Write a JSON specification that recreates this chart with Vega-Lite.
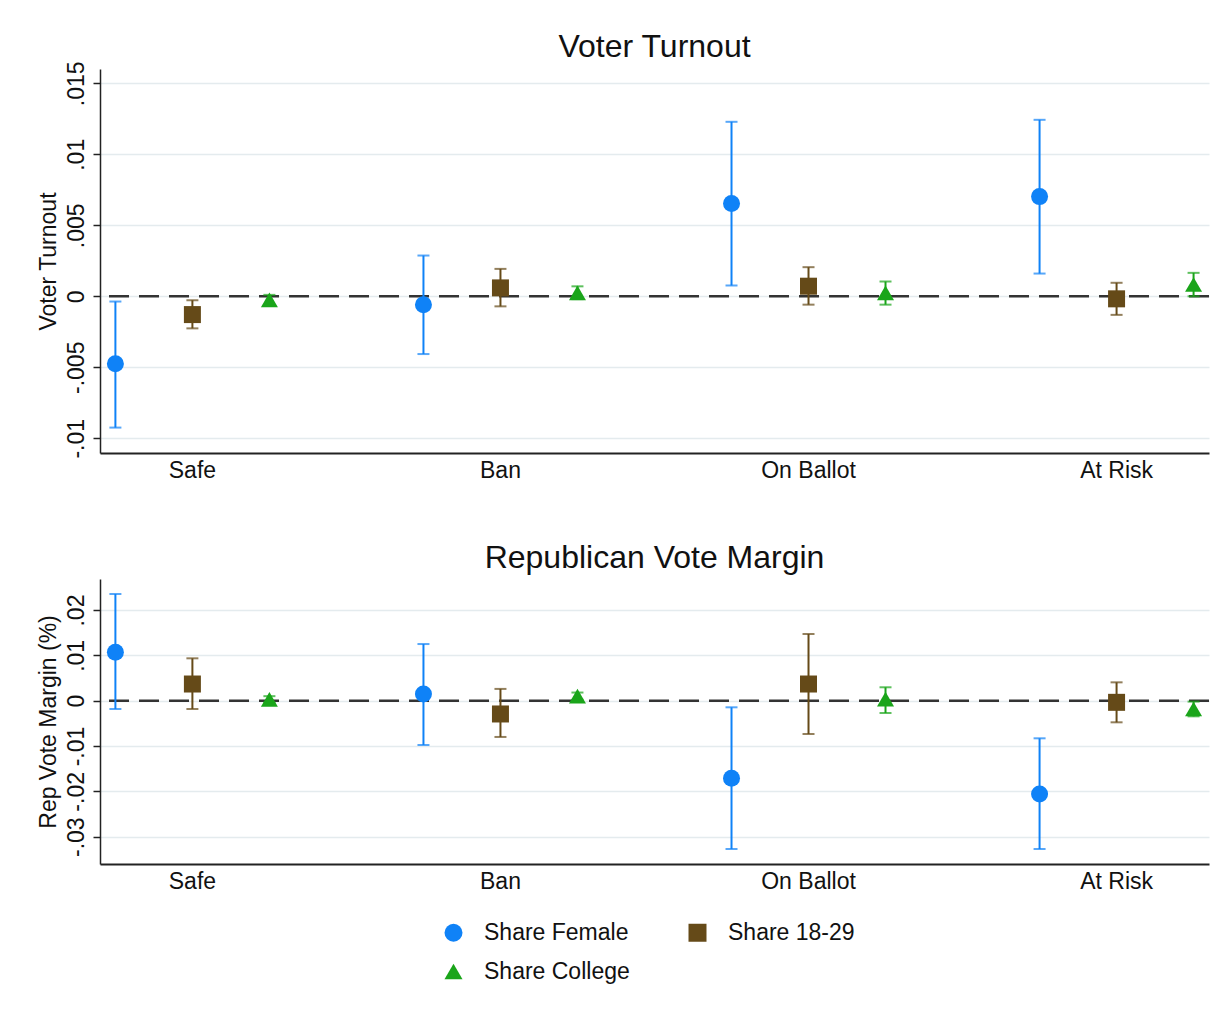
{
  "$schema": "https://vega.github.io/schema/vega-lite/v6.json",
  "background": "white",
  "autosize": {"type": "pad"},
  "padding": {"left": 37, "top": 30, "right": 16, "bottom": 10},
  "config": {
    "font": "Liberation Sans",
    "view": {"stroke": null},
    "axis": {
      "labelFont": "Liberation Sans",
      "titleFont": "Liberation Sans",
      "labelColor": "#111111",
      "titleColor": "#111111",
      "labelFontSize": 23,
      "titleFontSize": 23,
      "titleFontWeight": "normal",
      "domainColor": "#222222",
      "domainWidth": 1.5,
      "tickColor": "#222222",
      "tickWidth": 1.5,
      "gridColor": "#e4ebee",
      "gridWidth": 1.5
    },
    "title": {
      "font": "Liberation Sans",
      "fontSize": 32,
      "fontWeight": "normal",
      "color": "#111111",
      "anchor": "middle",
      "frame": "group",
      "baseline": "alphabetic"
    },
    "concat": {"spacing": 60}
  },
  "datasets": {
    "turnout": [
      {"category": "Safe", "series": "Share Female", "est": -0.00475, "lo": -0.00925, "hi": -0.00037},
      {"category": "Safe", "series": "Share 18-29", "est": -0.00129, "lo": -0.00226, "hi": -0.00028},
      {"category": "Safe", "series": "Share College", "est": -0.00025, "lo": -0.0006, "hi": 0.0001},
      {"category": "Ban", "series": "Share Female", "est": -0.00059, "lo": -0.00407, "hi": 0.00287},
      {"category": "Ban", "series": "Share 18-29", "est": 0.00059, "lo": -0.00071, "hi": 0.00193},
      {"category": "Ban", "series": "Share College", "est": 0.00024, "lo": -0.0002, "hi": 0.0007},
      {"category": "On Ballot", "series": "Share Female", "est": 0.00653, "lo": 0.00076, "hi": 0.01229},
      {"category": "On Ballot", "series": "Share 18-29", "est": 0.00071, "lo": -0.00059, "hi": 0.00205},
      {"category": "On Ballot", "series": "Share College", "est": 0.00024, "lo": -0.00059, "hi": 0.00104},
      {"category": "At Risk", "series": "Share Female", "est": 0.00702, "lo": 0.0016, "hi": 0.01243},
      {"category": "At Risk", "series": "Share 18-29", "est": -0.00018, "lo": -0.00131, "hi": 0.00095},
      {"category": "At Risk", "series": "Share College", "est": 0.00083, "lo": 0.0, "hi": 0.00165}
    ],
    "margin": [
      {"category": "Safe", "series": "Share Female", "est": 0.01068, "lo": -0.00183, "hi": 0.02354},
      {"category": "Safe", "series": "Share 18-29", "est": 0.00368, "lo": -0.00183, "hi": 0.00935},
      {"category": "Safe", "series": "Share College", "est": 0.0003, "lo": -0.0004, "hi": 0.001},
      {"category": "Ban", "series": "Share Female", "est": 0.00148, "lo": -0.00977, "hi": 0.0125},
      {"category": "Ban", "series": "Share 18-29", "est": -0.00293, "lo": -0.008, "hi": 0.0026},
      {"category": "Ban", "series": "Share College", "est": 0.001, "lo": 0.0002, "hi": 0.0018},
      {"category": "On Ballot", "series": "Share Female", "est": -0.01712, "lo": -0.03272, "hi": -0.00146},
      {"category": "On Ballot", "series": "Share 18-29", "est": 0.00368, "lo": -0.00735, "hi": 0.01471},
      {"category": "On Ballot", "series": "Share College", "est": 0.00037, "lo": -0.00272, "hi": 0.00296},
      {"category": "At Risk", "series": "Share Female", "est": -0.02058, "lo": -0.03272, "hi": -0.0083},
      {"category": "At Risk", "series": "Share 18-29", "est": -0.00036, "lo": -0.00477, "hi": 0.00405},
      {"category": "At Risk", "series": "Share College", "est": -0.00183, "lo": -0.00345, "hi": -0.0002}
    ]
  },
  "resolve": {"scale": {"color": "shared", "shape": "shared", "stroke": "shared", "fill": "shared", "x": "independent", "y": "independent"}},
  "vconcat": [
    {
      "title": {"text": "Voter Turnout", "offset": -3},
      "width": 1109,
      "height": 384,
      "data": {"name": "turnout"},
      "layer": [
        {
          "data": {"values": [{"z": 0}]},
          "mark": {"type": "rule", "strokeDash": [20, 10], "strokeWidth": 2.5, "color": "#333333"},
          "encoding": {"y": {"field": "z", "type": "quantitative", "title": "Voter Turnout"}}
        },
        {
          "mark": {"type": "rule", "strokeWidth": 2},
          "encoding": {
            "x": {"field": "category", "type": "nominal", "sort": ["Safe", "Ban", "On Ballot", "At Risk"], "scale": {"paddingInner": 0.4, "paddingOuter": 0}, "axis": {"title": null, "labelAngle": 0, "ticks": false, "labelPadding": 6, "domainWidth": 2, "grid": false}},
            "xOffset": {"field": "series", "type": "nominal", "sort": ["Share Female", "Share 18-29", "Share College"], "scale": {"range": [-23.1, 207.9], "paddingInner": 0, "paddingOuter": 0}},
            "y": {"field": "lo", "type": "quantitative", "title": "Voter Turnout", "scale": {"domain": [-0.01104, 0.01601], "nice": false, "zero": false}, "axis": {"values": [-0.01, -0.005, 0, 0.005, 0.01, 0.015], "labelExpr": "datum.value == 0 ? '0' : (datum.value < 0 ? '-' : '') + replace(format(abs(datum.value), '.3~f'), '0.', '.')", "labelAngle": -90, "labelAlign": "center", "labelBaseline": "bottom", "labelPadding": 5, "tickSize": 7, "titlePadding": 5, "grid": true, "labelOverlap": false, "labelFlush": false, "labelBound": false}},
            "y2": {"field": "hi"},
            "stroke": {"field": "series", "type": "nominal", "scale": {"domain": ["Share 18-29", "Share Female", "Share College"], "range": ["#654a18", "#0f82f7", "#1aa51a"]}, "legend": null}
          }
        },
        {
          "mark": {"type": "tick", "size": 12, "thickness": 2, "orient": "horizontal"},
          "encoding": {
            "x": {"field": "category", "type": "nominal", "sort": ["Safe", "Ban", "On Ballot", "At Risk"]},
            "xOffset": {"field": "series", "type": "nominal", "sort": ["Share Female", "Share 18-29", "Share College"]},
            "y": {"field": "lo", "type": "quantitative", "title": "Voter Turnout"},
            "fill": {"field": "series", "type": "nominal", "scale": {"domain": ["Share College", "Share Female", "Share 18-29"], "range": ["#1aa51a", "#0f82f7", "#654a18"]}, "legend": null}
          }
        },
        {
          "mark": {"type": "tick", "size": 12, "thickness": 2, "orient": "horizontal"},
          "encoding": {
            "x": {"field": "category", "type": "nominal", "sort": ["Safe", "Ban", "On Ballot", "At Risk"]},
            "xOffset": {"field": "series", "type": "nominal", "sort": ["Share Female", "Share 18-29", "Share College"]},
            "y": {"field": "hi", "type": "quantitative", "title": "Voter Turnout"},
            "fill": {"field": "series", "type": "nominal", "legend": null}
          }
        },
        {
          "mark": {"type": "point", "filled": true, "size": 289, "opacity": 1, "strokeWidth": 0},
          "encoding": {
            "x": {"field": "category", "type": "nominal", "sort": ["Safe", "Ban", "On Ballot", "At Risk"]},
            "xOffset": {"field": "series", "type": "nominal", "sort": ["Share Female", "Share 18-29", "Share College"]},
            "y": {"field": "est", "type": "quantitative", "title": "Voter Turnout"},
            "color": {"field": "series", "type": "nominal", "scale": {"domain": ["Share Female", "Share 18-29", "Share College"], "range": ["#0f82f7", "#654a18", "#1aa51a"]}, "legend": {"title": null, "orient": "none", "direction": "horizontal", "legendX": 342, "legendY": 852, "columns": 2, "symbolSize": 324, "labelFontSize": 23, "labelFont": "Liberation Sans", "labelColor": "#111111", "columnPadding": 56, "rowPadding": 15, "labelOffset": 19, "labelLimit": 400}},
            "shape": {"field": "series", "type": "nominal", "scale": {"domain": ["Share Female", "Share 18-29", "Share College"], "range": ["circle", "square", "triangle-up"]}, "legend": {"title": null, "orient": "none", "direction": "horizontal", "legendX": 342, "legendY": 852, "columns": 2, "symbolSize": 324, "labelFontSize": 23, "labelFont": "Liberation Sans", "labelColor": "#111111", "columnPadding": 56, "rowPadding": 15, "labelOffset": 19, "labelLimit": 400}}
          }
        }
      ]
    },
    {
      "title": {"text": "Republican Vote Margin", "offset": 4},
      "width": 1109,
      "height": 285,
      "data": {"name": "margin"},
      "layer": [
        {
          "data": {"values": [{"z": 0}]},
          "mark": {"type": "rule", "strokeDash": [20, 10], "strokeWidth": 2.5, "color": "#333333"},
          "encoding": {"y": {"field": "z", "type": "quantitative", "title": "Rep Vote Margin (%)"}}
        },
        {
          "mark": {"type": "rule", "strokeWidth": 2},
          "encoding": {
            "x": {"field": "category", "type": "nominal", "sort": ["Safe", "Ban", "On Ballot", "At Risk"], "scale": {"paddingInner": 0.4, "paddingOuter": 0}, "axis": {"title": null, "labelAngle": 0, "ticks": false, "labelPadding": 6, "domainWidth": 2, "grid": false}},
            "xOffset": {"field": "series", "type": "nominal", "sort": ["Share Female", "Share 18-29", "Share College"], "scale": {"range": [-23.1, 207.9], "paddingInner": 0, "paddingOuter": 0}},
            "y": {"field": "lo", "type": "quantitative", "title": "Rep Vote Margin (%)", "scale": {"domain": [-0.03603, 0.02685], "nice": false, "zero": false}, "axis": {"values": [-0.03, -0.02, -0.01, 0, 0.01, 0.02], "labelExpr": "datum.value == 0 ? '0' : (datum.value < 0 ? '-' : '') + replace(format(abs(datum.value), '.3~f'), '0.', '.')", "labelAngle": -90, "labelAlign": "center", "labelBaseline": "bottom", "labelPadding": 5, "tickSize": 7, "titlePadding": 5, "grid": true, "labelOverlap": false, "labelFlush": false, "labelBound": false}},
            "y2": {"field": "hi"},
            "stroke": {"field": "series", "type": "nominal", "legend": null}
          }
        },
        {
          "mark": {"type": "tick", "size": 12, "thickness": 2, "orient": "horizontal"},
          "encoding": {
            "x": {"field": "category", "type": "nominal", "sort": ["Safe", "Ban", "On Ballot", "At Risk"]},
            "xOffset": {"field": "series", "type": "nominal", "sort": ["Share Female", "Share 18-29", "Share College"]},
            "y": {"field": "lo", "type": "quantitative", "title": "Rep Vote Margin (%)"},
            "fill": {"field": "series", "type": "nominal", "legend": null}
          }
        },
        {
          "mark": {"type": "tick", "size": 12, "thickness": 2, "orient": "horizontal"},
          "encoding": {
            "x": {"field": "category", "type": "nominal", "sort": ["Safe", "Ban", "On Ballot", "At Risk"]},
            "xOffset": {"field": "series", "type": "nominal", "sort": ["Share Female", "Share 18-29", "Share College"]},
            "y": {"field": "hi", "type": "quantitative", "title": "Rep Vote Margin (%)"},
            "fill": {"field": "series", "type": "nominal", "legend": null}
          }
        },
        {
          "mark": {"type": "point", "filled": true, "size": 289, "opacity": 1, "strokeWidth": 0},
          "encoding": {
            "x": {"field": "category", "type": "nominal", "sort": ["Safe", "Ban", "On Ballot", "At Risk"]},
            "xOffset": {"field": "series", "type": "nominal", "sort": ["Share Female", "Share 18-29", "Share College"]},
            "y": {"field": "est", "type": "quantitative", "title": "Rep Vote Margin (%)"},
            "color": {"field": "series", "type": "nominal"},
            "shape": {"field": "series", "type": "nominal"}
          }
        }
      ]
    }
  ]
}
